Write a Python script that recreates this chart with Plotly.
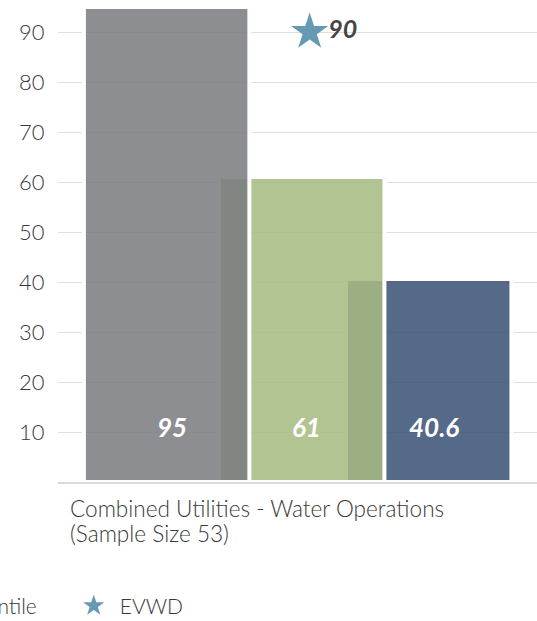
import plotly.graph_objects as go

# ---- data ----
categories = ["Combined Utilities - Water Operations<br>(Sample Size 53)"]
series_names = ["75th Percentile", "Median", "25th Percentile"]
series_values = [95, 61, 40.6]
evwd_name = "EVWD"
evwd_values = [90]
y_tick_values = [10, 20, 30, 40, 50, 60, 70, 80, 90]
y_tick_labels = ["10", "20", "30", "40", "50", "60", "70", "80", "90"]

# ---- style ----
FONT = "Lato"
TEXT = "#383838"
bar_colors = ["rgba(122,124,128,0.86)", "rgba(167,186,129,0.86)", "rgba(56,82,117,0.86)"]
bar_offsets = [-1.411, -0.567, 0.227]
bar_width = 1.034
bar_legend = [False, False, True]
star_color = "#6699b2"

fig = go.Figure()

# draw last series first so earlier series sit on top
for i in reversed(range(len(series_values))):
    fig.add_trace(go.Bar(
        name=series_names[i],
        x=categories,
        y=[series_values[i]],
        width=bar_width,
        offset=bar_offsets[i],
        marker=dict(color=bar_colors[i], line=dict(color="white", width=4)),
        showlegend=bar_legend[i],
        hoverinfo="skip",
    ))

fig.add_trace(go.Scatter(
    name=evwd_name,
    x=categories,
    y=evwd_values,
    mode="markers+text",
    marker=dict(symbol="star", size=28, color=star_color, line=dict(width=0)),
    text=["<b><i>%g</i></b>" % v for v in evwd_values],
    textposition="middle right",
    textfont=dict(family=FONT, size=25, color="#444444"),
    hoverinfo="skip",
))

annotations = []
for i, v in enumerate(series_values):
    annotations.append(dict(
        x=bar_offsets[i] + bar_width / 2, y=0, xref="x", yref="y",
        text="<b><i>%g</i></b>" % v, showarrow=False,
        xanchor="center", yanchor="middle", xshift=5, yshift=55,
        font=dict(family=FONT, size=26, color="white"),
    ))
for j, line in enumerate(categories[0].split("<br>")):
    annotations.append(dict(
        x=0.021, y=0, xref="paper", yref="paper",
        text=line, showarrow=False,
        xanchor="left", yanchor="top", align="left", yshift=-11 - 25 * j,
        font=dict(family=FONT, size=22.6, color=TEXT, weight=300),
    ))

fig.update_layout(
    width=537, height=621,
    margin=dict(l=58, r=0, t=0, b=139, autoexpand=False),
    paper_bgcolor="white", plot_bgcolor="white",
    barmode="overlay",
    font=dict(family=FONT, color=TEXT),
    annotations=annotations,
    showlegend=True,
    legend=dict(
        orientation="h", x=-0.441, xanchor="left", y=-0.215, yanchor="top",
        itemwidth=42, entrywidth=164, entrywidthmode="pixels",
        font=dict(family=FONT, size=21, color=TEXT, weight=300),
        bgcolor="rgba(0,0,0,0)", itemclick=False, itemdoubleclick=False,
    ),
)
fig.update_xaxes(
    type="category", range=[-1.573, 1.4206], showgrid=False,
    showticklabels=False, showline=True, linecolor="#dadada", linewidth=2,
    zeroline=False, fixedrange=True,
)
fig.update_yaxes(
    range=[0, 96.4], tickvals=y_tick_values, ticktext=y_tick_labels,
    showgrid=True, gridcolor="#e2ded9", gridwidth=1, zeroline=False,
    showline=False, ticks="outside", ticklen=8, tickcolor="rgba(0,0,0,0)",
    tickfont=dict(family=FONT, size=22, color=TEXT, weight=300), fixedrange=True,
)

fig.write_html("out.html")
